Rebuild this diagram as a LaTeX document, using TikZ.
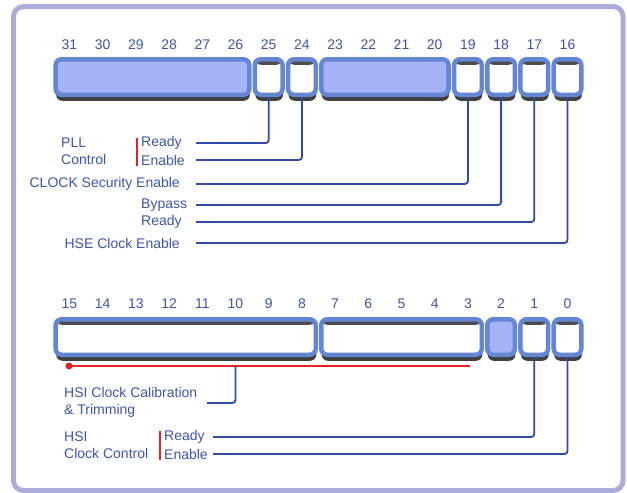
\documentclass[tikz,border=0pt]{standalone}
\usepackage{fontspec}
\setmainfont{Liberation Sans}
\usepackage{xcolor}
\usepackage{tikz}
\usetikzlibrary{shadows}
\definecolor{regtext}{HTML}{3D55A8}
\definecolor{regline}{HTML}{3349AA}
\definecolor{regedge}{HTML}{6586D2}
\definecolor{regfill}{HTML}{A4B3F6}
\definecolor{framecol}{HTML}{ACACDA}
\definecolor{markred}{HTML}{E52222}

\begin{document}
\begin{tikzpicture}[x=1pt, y=-1pt,
  field/.style={draw=regedge, line width=4.5pt, rounded corners=6pt,
    minimum height=35.5pt, inner sep=0pt,
    drop shadow={shadow xshift=0.5pt, shadow yshift=-6pt, fill=black!75, opacity=1}},
  resv/.style={field, fill=regfill},
  bitbox/.style={field, fill=white,
    path picture={\fill[black!70] (path picture bounding box.north west)
      rectangle ([yshift=-5.5pt]path picture bounding box.north east);}},
  wire/.style={regline, line width=1.8pt, rounded corners=3pt},
  lbl/.style={text=regtext, font=\fontsize{14}{17}\selectfont, inner sep=0pt, align=left},
  bar/.style={markred, line width=2pt}]
  \useasboundingbox (0,0) rectangle (627,493);
  \draw[framecol, line width=5pt, rounded corners=10pt] (13.5,6.5) rectangle (623,490.5);
  % bit numbers
  \foreach \i in {0,...,15} {
    \pgfmathtruncatemacro{\hi}{31-\i}
    \pgfmathtruncatemacro{\lo}{15-\i}
    \node[lbl] (n\hi) at (69.5+\i*33.2, 45) {\hi};
    \node[lbl] (n\lo) at (69.5+\i*33.2, 304) {\lo};
  }
  % upper half
  \foreach \nm/\a/\b/\st in {r31/0/5/resv, b25/6/6/bitbox, b24/7/7/bitbox, r23/8/11/resv,
      b19/12/12/bitbox, b18/13/13/bitbox, b17/14/14/bitbox, b16/15/15/bitbox}
    \node[\st, minimum width={(\b-\a+1)*33.2-5.5}] (\nm) at ({69.5+(\a+\b)/2*33.2}, 77) {};
  % lower half
  \foreach \nm/\a/\b/\st in {f15/0/7/bitbox, f7/8/12/bitbox, b2/13/13/resv,
      b1/14/14/bitbox, b0/15/15/bitbox}
    \node[\st, minimum width={(\b-\a+1)*33.2-5.5}] (\nm) at ({69.5+(\a+\b)/2*33.2}, 337) {};

  \node[lbl, anchor=west] (pll) at (61,151.5) {PLL\\Control};
  \draw[bar] (137,138) -- (137,166);
  \node[lbl, anchor=west] (pllrdy) at (141,143) {Ready};
  \node[lbl, anchor=west] (pllon) at (141,160) {Enable};
  \node[lbl, anchor=east] (css) at (180,184) {CLOCK Security Enable};
  \node[lbl, anchor=west] (byp) at (141,205) {Bypass};
  \node[lbl, anchor=west] (hserdy) at (141,222) {Ready};
  \node[lbl, anchor=east] (hseon) at (180,243) {HSE Clock Enable};

  \foreach \b/\y in {25/143, 24/160, 19/184, 18/205, 17/222, 16/243} {
    \coordinate (e\b) at (196,\y);
    \draw[wire] (b\b.south) |- (e\b);
  }

  % calibration bits
  \coordinate (calL) at (69,366);
  \coordinate (calR) at (470,366);
  \draw[bar] (calL) -- (calR);
  \fill[markred] (calL) circle (3.5pt);
  \coordinate (calE) at (207,403);
  \draw[wire] (n10 |- calL) |- (calE);

  \node[lbl, anchor=west] (hsical) at (64,402.5) {HSI Clock Calibration\\\& Trimming};
  \node[lbl, anchor=west] (hsi) at (64,445.5) {HSI\\Clock Control};
  \draw[bar] (160,431) -- (160,460);
  \node[lbl, anchor=west] (hsirdy) at (164,437) {Ready};
  \node[lbl, anchor=west] (hsion) at (164,454) {Enable};

  \foreach \b/\y in {1/437, 0/454} {
    \coordinate (e\b) at (213,\y);
    \draw[wire] (b\b.south) |- (e\b);
  }
\end{tikzpicture}
\end{document}
